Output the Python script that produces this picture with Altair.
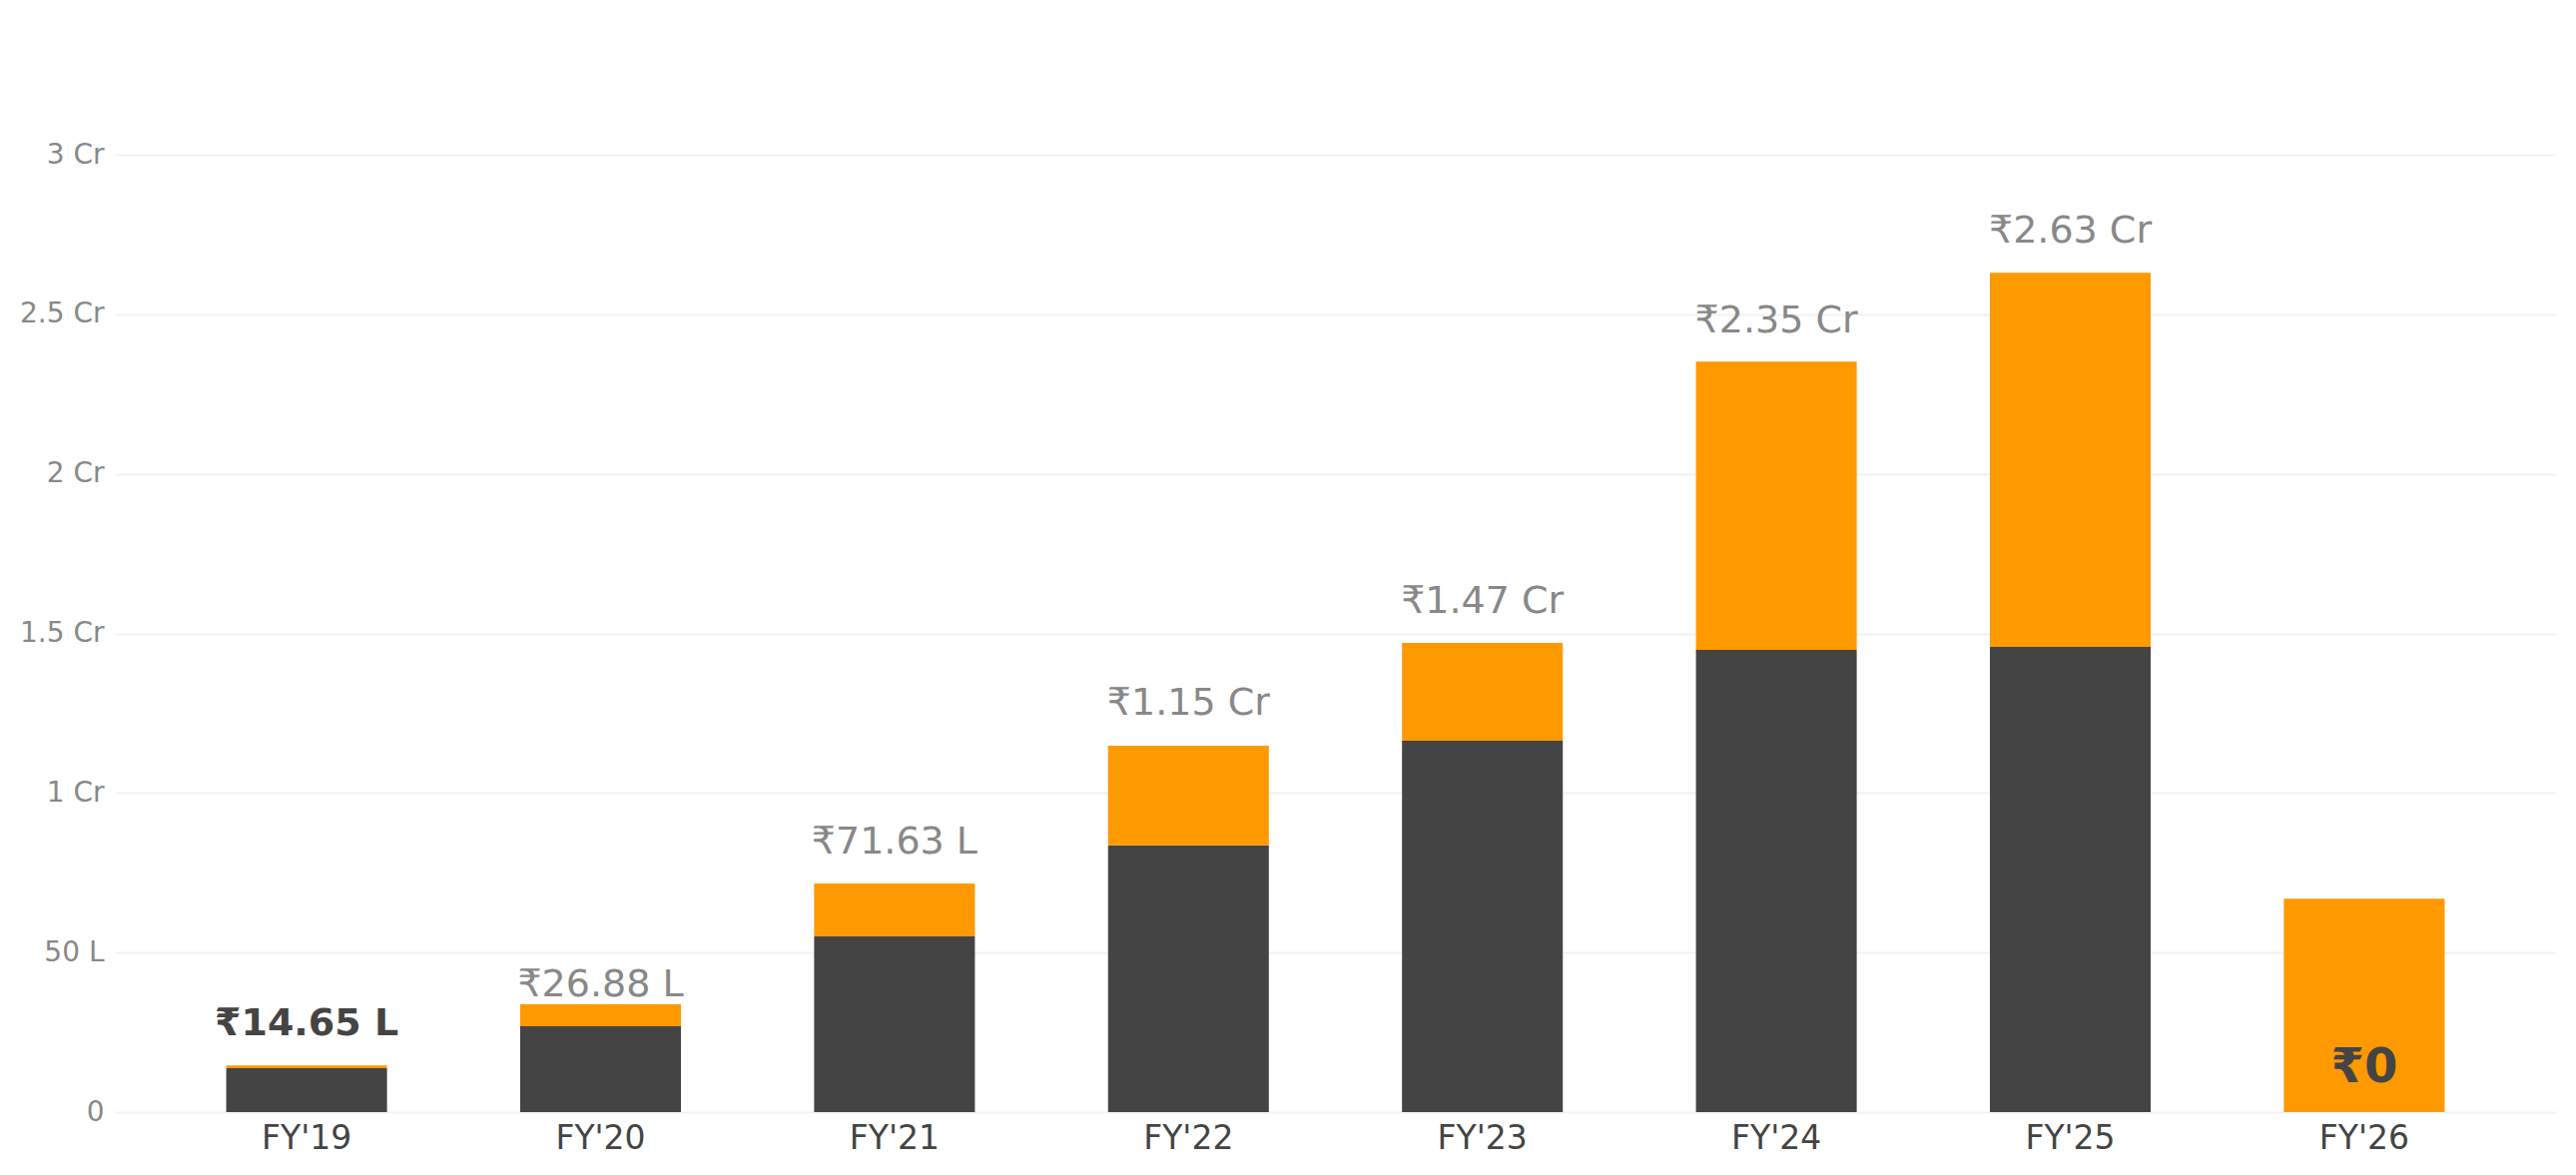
import altair as alt
import pandas as pd

# ---- data (values in rupees) ----
years = ["FY'19", "FY'20", "FY'21", "FY'22", "FY'23", "FY'24", "FY'25", "FY'26"]
dark_values = [1380000, 2688000, 5505000, 8360000, 11640000, 14480000, 14580000, 0]
orange_values = [85000, 692000, 1658000, 3120000, 3060000, 9040000, 11720000, 6690000]
label_values = [1465000, 2688000, 7163000, 11500000, 14700000, 23500000, 26300000, 0]
label_texts = ["₹14.65 L", "₹26.88 L", "₹71.63 L", "₹1.15 Cr", "₹1.47 Cr", "₹2.35 Cr", "₹2.63 Cr", "₹0"]
bold_small = ["FY'19"]
bold_big = ["FY'26"]
y_ticks = [0, 5000000, 10000000, 15000000, 20000000, 25000000, 30000000]

series_names = ["dark", "orange"]
rows = []
for i, yr in enumerate(years):
    rows.append({"year": yr, "series": "dark", "order": 0, "value": dark_values[i]})
    rows.append({"year": yr, "series": "orange", "order": 1, "value": orange_values[i]})
bars_df = pd.DataFrame(rows)
labels_df = pd.DataFrame({"year": years, "lv": label_values, "txt": label_texts})

FONT = "DejaVu Sans"

x_enc = alt.X(
    "year:N",
    sort=years,
    title=None,
    scale=alt.Scale(paddingInner=0.453, paddingOuter=0.379),
    axis=alt.Axis(
        labelAngle=0, ticks=False, domain=False, grid=False,
        labelFontSize=33, labelColor="#444444", labelFont=FONT, labelPadding=10,
    ),
)

y_scale = alt.Scale(domain=[0, 30000000], nice=False, zero=True)

bars = alt.Chart(bars_df).mark_bar().encode(
    x=x_enc,
    y=alt.Y(
        "value:Q",
        stack="zero",
        scale=y_scale,
        title=None,
        axis=alt.Axis(
            values=y_ticks,
            labelExpr="datum.value == 0 ? '0' : (datum.value < 10000000 ? (datum.value/100000) + ' L' : (datum.value/10000000) + ' Cr')",
            ticks=False, domain=False, grid=True,
            gridColor="#f2f2f2", gridWidth=2,
            labelFontSize=28, labelColor="#888888", labelFont=FONT, labelPadding=11,
        ),
    ),
    color=alt.Color(
        "series:N",
        scale=alt.Scale(domain=series_names, range=["#444444", "#FF9900"]),
        legend=None,
    ),
    order=alt.Order("order:Q"),
)

base_text = alt.Chart(labels_df).encode(
    x=alt.X("year:N", sort=years),
    y=alt.Y("lv:Q", scale=y_scale),
    text="txt:N",
)

normal_labels = base_text.transform_filter(
    alt.FieldOneOfPredicate(field="year", oneOf=[y for y in years if y not in bold_small + bold_big])
).mark_text(font=FONT, fontSize=38, color="#888888", dy=-30, baseline="alphabetic", align="center")

bold_small_labels = base_text.transform_filter(
    alt.FieldOneOfPredicate(field="year", oneOf=bold_small)
).mark_text(font=FONT, fontSize=38, fontWeight="bold", color="#444444", dy=-30, baseline="alphabetic", align="center")

bold_big_labels = base_text.transform_filter(
    alt.FieldOneOfPredicate(field="year", oneOf=bold_big)
).mark_text(font=FONT, fontSize=48, fontWeight="bold", color="#444444", dy=-30, baseline="alphabetic", align="center")

chart = alt.layer(bars, normal_labels, bold_small_labels, bold_big_labels).properties(
    width=2445,
    height=959,
    background="white",
    autosize=alt.AutoSizeParams(type="none"),
    padding={"left": 107, "top": 147, "right": 5, "bottom": 50},
).configure_view(stroke="transparent", strokeWidth=0)

chart.save("out.html", embed_options={"renderer": "svg", "actions": False})
